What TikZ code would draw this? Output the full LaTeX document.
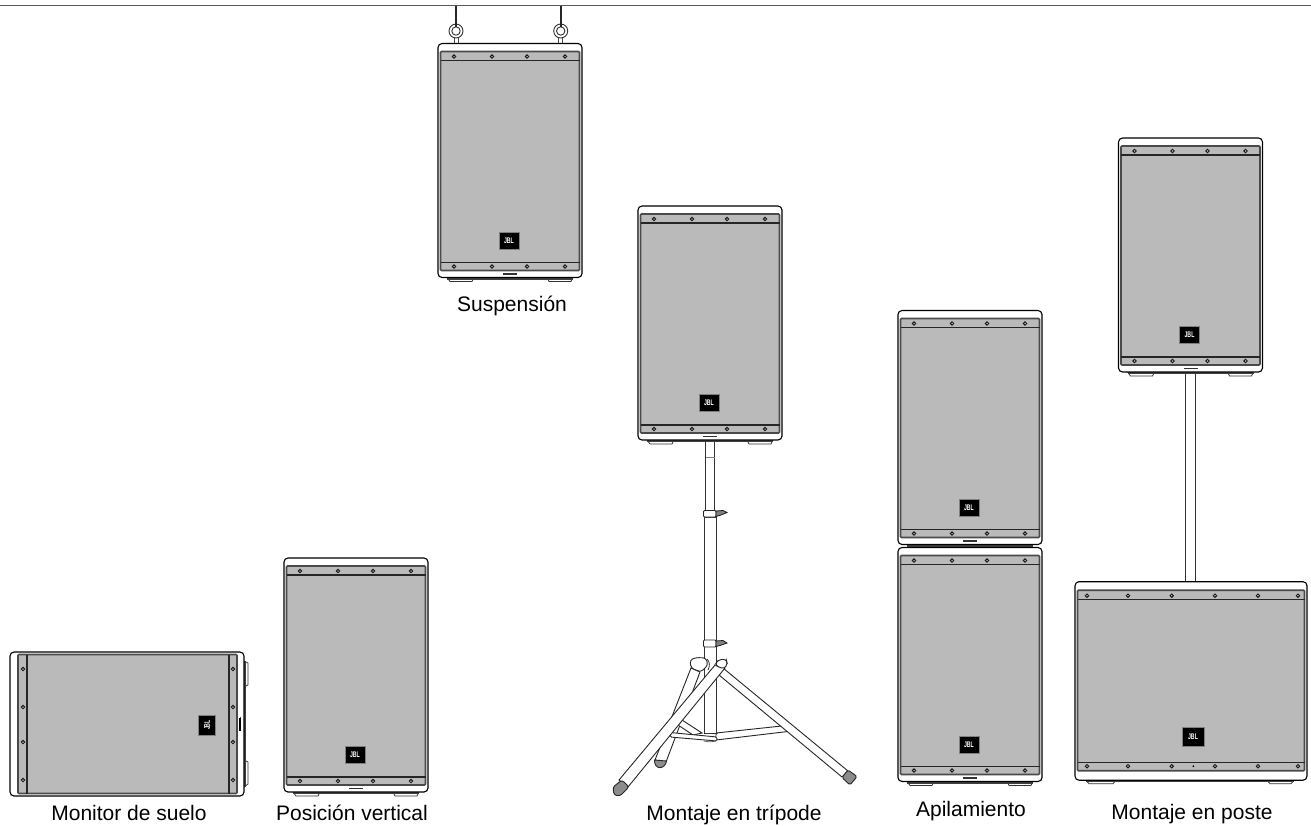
\documentclass[tikz,border=0pt]{standalone}
\usepackage{graphicx}
\usepackage{fontspec}
\setmainfont{Liberation Sans}
\definecolor{grille}{HTML}{BABABA}
\definecolor{edgegray}{HTML}{4A4A4A}
\definecolor{capgray}{HTML}{8C8C8C}
\tikzset{
  caseline/.style={draw=black,line width=1.1pt,fill=white,rounded corners=4pt},
  panel/.style={draw=edgegray,line width=1.6pt,fill=grille,rounded corners=1pt},
  barline/.style={draw=black!85,line width=1.2pt},
  screw/.style={draw=black!90,line width=1pt,fill=black!15},
  footshape/.style={draw=black!80,line width=0.8pt,fill=white},
  band/.style={draw=black!75,line width=2pt},
  logo/.style={fill=black,draw=gray,line width=1pt,inner sep=0pt,text=white,transform shape,font=\fontsize{6.5}{6.5}\selectfont\bfseries},
  caption/.style={font=\fontsize{21}{23}\selectfont,inner sep=0pt,anchor=base},
  tube/.style={draw=black!80,line width=0.9pt},
  tubefill/.style={draw=black!85,line width=0.9pt,fill=white},
  capshape/.style={draw=black!85,line width=0.9pt,fill=capgray}
}
\newcommand{\logotext}{\scalebox{0.8}[1.25]{JBL}}
% tall cabinet, local size 144 x 234
\newcommand{\cabinet}[4]{% name, x, y, rotation
  \begin{scope}[shift={(#2,#3)},rotate=#4]
    \draw[footshape] (9,234) -- (12,238) -- (34,238) -- (36,234);
    \draw[footshape] (109,234) -- (111,238) -- (133,238) -- (135,234);
    \draw[band] (9,235) -- (135,235);
    \path[caseline] (0,0) rectangle (144,234);
    \path[panel] (2.5,8) rectangle (141.5,227);
    \draw[barline] (2.5,17) -- (141.5,17);
    \draw[barline] (2.5,219) -- (141.5,219);
    \foreach \u in {16,54,89,127}{
      \draw[screw] (\u,13) circle (1.7);
      \draw[screw] (\u,223) circle (1.7);
    }
    \draw[line width=1.2pt,black!80] (65,230.5) -- (79,230.5);
    \node[logo,minimum width=20pt,minimum height=17pt] (#1) at (71,197) {\logotext};
  \end{scope}}
\begin{document}
\begin{tikzpicture}[x=1pt,y=-1pt]
\useasboundingbox (0,0) rectangle (1311,825);
% ceiling
\draw[line width=1.5pt,black!65] (0,5.5) -- (1311,5.5);
% suspension hardware
\foreach \hx/\hn in {456/a,560.7/b}{
  \draw[line width=0.8pt,black!70,fill=white] (\hx-2,36) rectangle (\hx+2,44);
  \draw[line width=0.9pt,black!80,fill=white] (\hx,31) circle (7);
  \draw[line width=0.9pt,black!80] (\hx,31) circle (4.2);
  \draw[line width=1.8pt,black!85] (\hx,6) -- (\hx,27);
}
\cabinet{logoA}{438}{43.5}{0}
\node[caption] (capSusp) at (512,311.5) {Suspensión};
% monitor
\cabinet{logoB}{10}{796}{90}
\draw[line width=1.2pt,black] (240,718) -- (240,731);
\node[caption] (capMon) at (129,820) {Monitor de suelo};
% vertical
\cabinet{logoC}{284}{558}{0}
\node[caption] (capVert) at (352,820) {Posición vertical};
% tripod: pole
\draw[tube,fill=white] (704,517) rectangle (716,733);
\draw[tube,fill=white] (705.7,440) rectangle (714.7,510);
\draw[line width=0.8pt,black!50] (705.7,457.5) -- (714.7,457.5);
\draw[tubefill,rounded corners=1pt] (703.5,510.5) rectangle (716,517);
\draw[line width=0.8pt,black!90,fill=gray] (716,511) -- (723,510.5) -- (727,512.5) -- (721,515) -- (716,516.5) -- cycle;
\draw[tubefill,rounded corners=1pt] (703.5,640) rectangle (716,647);
\draw[line width=0.8pt,black!90,fill=gray] (716,641) -- (723,640.5) -- (727,643) -- (720,645.5) -- (716,646.5) -- cycle;
% back leg
\draw[tubefill] (691,668) -- (655,760) -- (666,762) -- (700,672) -- cycle;
\draw[capshape] (654.5,760) .. controls (654,770) and (665,770) .. (666.5,761) -- cycle;
% braces
\draw[tubefill] (682,720) -- (702,733) -- (693,735) -- (678,725) -- cycle;
\draw[tubefill,rounded corners=1.5pt] (716,733) -- (791,725) -- (792,731) -- (716,740) -- cycle;
\draw[tubefill,rounded corners=1.5pt] (670,732.5) -- (717,737) -- (717,741) -- (670,737) -- cycle;
\draw[line width=0.8pt,black!60] (704,741) .. controls (708,742) and (712,742) .. (716,741);
% heads and front legs
\draw[tubefill,rounded corners=3pt] (691,668) -- (690,660) -- (696,657.5) -- (706,658) -- (708,665) -- (701,672) -- cycle;
\draw[tubefill] (723,668) -- (848,771) -- (842,777) -- (719,675) -- cycle;
\draw[capshape,rounded corners=1.5pt] (848,770) -- (857,776.5) -- (850,785) -- (842,777.5) -- cycle;
\draw[tubefill] (715,665) -- (619,780) -- (628,787) -- (725,668) -- cycle;
\draw[capshape,rounded corners=2.5pt] (613,787) -- (622,780) -- (629,787) -- (620,796) -- (614,795) -- cycle;
\draw[tubefill,rounded corners=3pt] (715,665) -- (718,660) -- (726,659) -- (727.5,664) -- (724,669) -- (719,667) -- cycle;
\draw[line width=0.8pt,black!80] (707,659) .. controls (710,662) and (710,666) .. (708,670);
\cabinet{logoD}{638}{206}{0}
\node[caption] (capTri) at (734,820) {Montaje en trípode};
% stack
\cabinet{logoE}{898}{310.5}{0}
\cabinet{logoF}{898}{547.5}{0}
\node[caption] (capStack) at (971,816) {Apilamiento};
% pole and sub
\draw[tube,fill=white] (1185,373) rectangle (1195,582);
\cabinet{logoG}{1118.5}{138}{0}
\begin{scope}[shift={(1075,581.7)}]
  \draw[footshape] (11,198.5) -- (14,202) -- (38,202) -- (41,198.5);
  \draw[footshape] (192,198.5) -- (195,202) -- (216,202) -- (219,198.5);
  \draw[band] (11,199.5) -- (219,199.5);
  \path[caseline] (0,0) rectangle (232,198.5);
  \path[panel] (2.5,8.5) rectangle (229.5,189);
  \draw[barline] (2.5,18) -- (229.5,18);
  \draw[barline] (2.5,180.5) -- (229.5,180.5);
  \foreach \u in {12,53,96.7,140,183,223}{
    \draw[screw] (\u,14) circle (1.7);
    \draw[screw] (\u,184.5) circle (1.7);
  }
  \fill[black] (118.3,184.5) circle (1);
  \node[logo,minimum width=22pt,minimum height=19pt] (logoH) at (118,155) {\logotext};
\end{scope}
\node[caption] (capPole) at (1192,819) {Montaje en poste};
\end{tikzpicture}
\end{document}
